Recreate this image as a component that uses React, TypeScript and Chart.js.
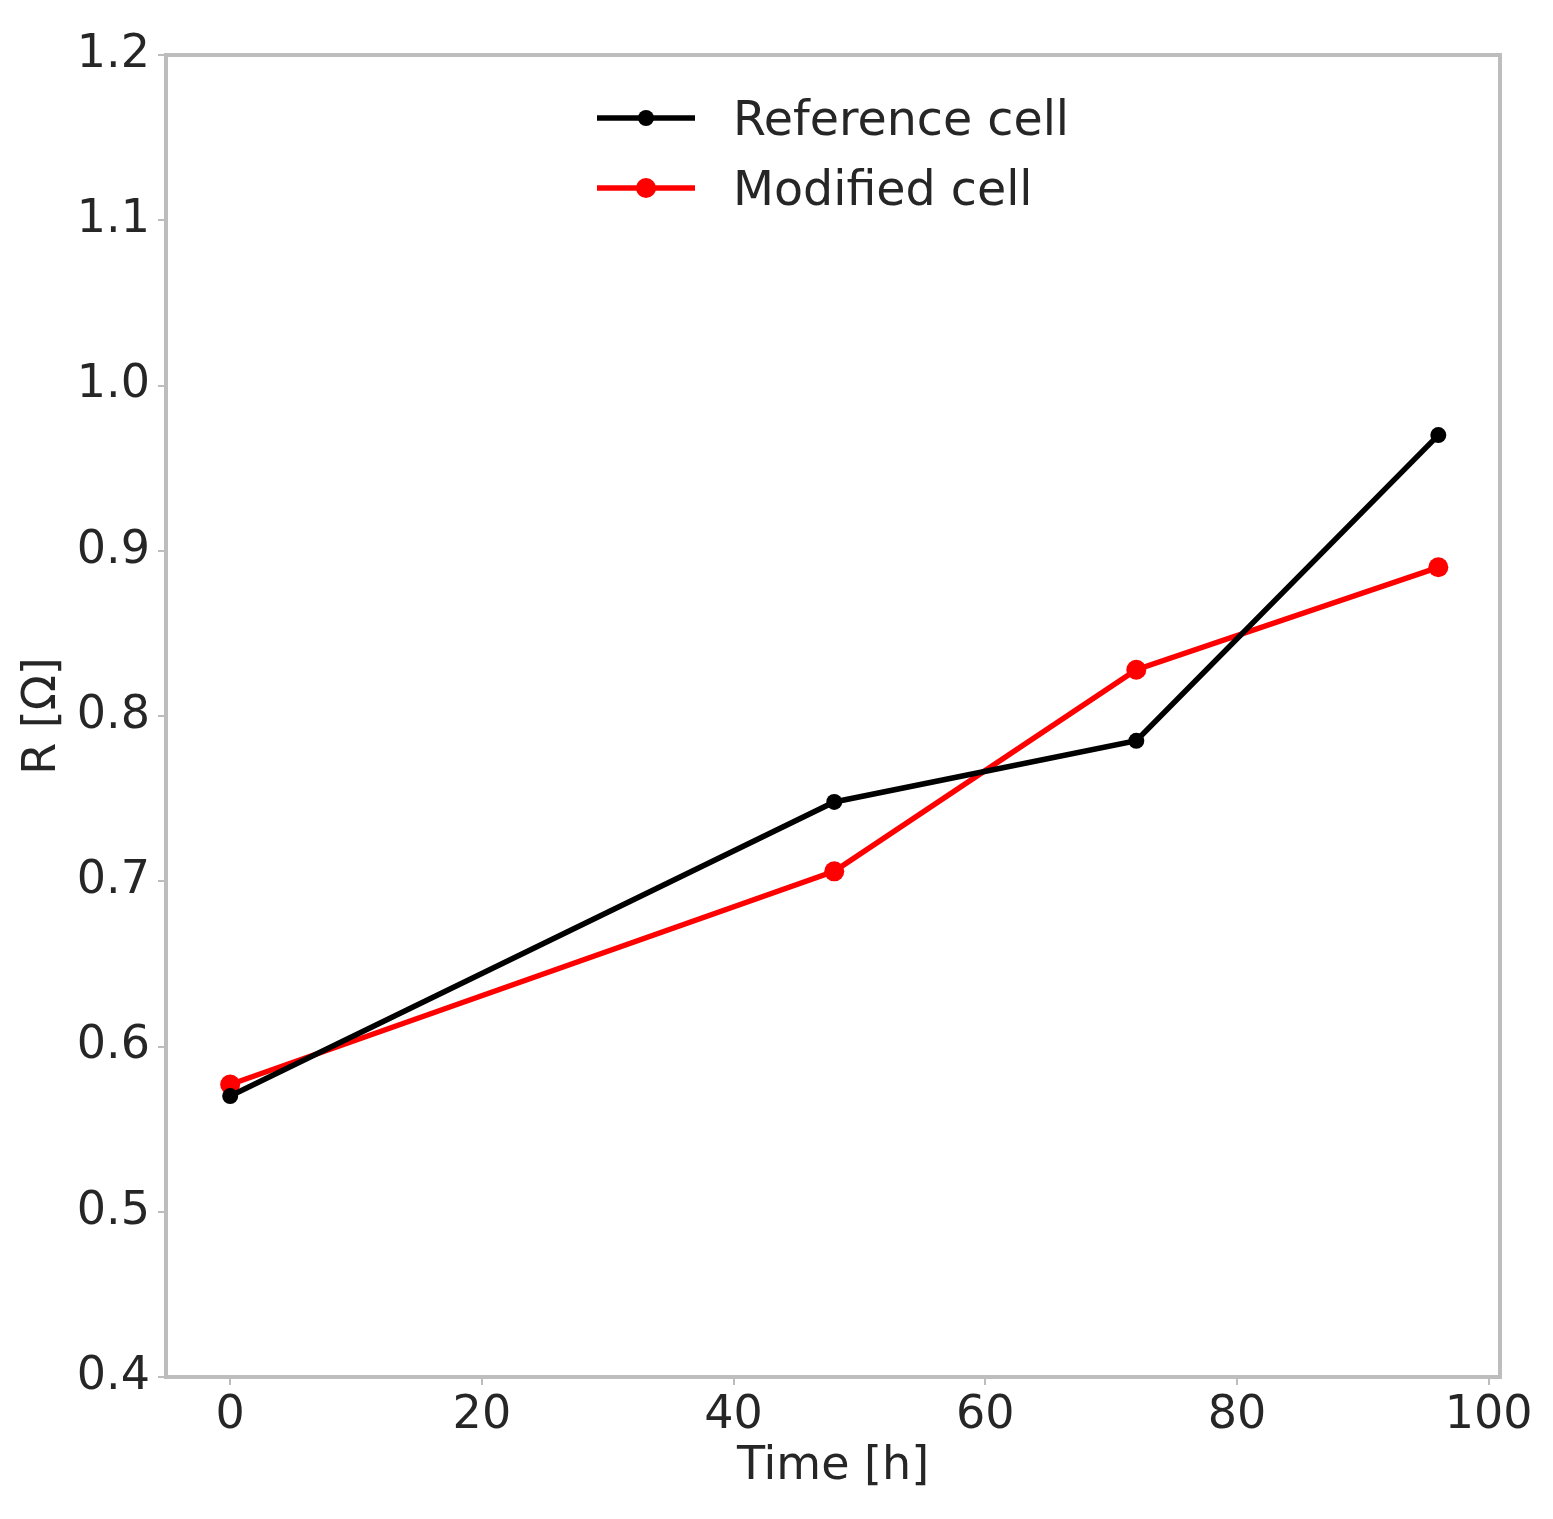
import { useRef, useEffect } from "react"
import { Chart, registerables } from "chart.js"

Chart.register(...registerables)

// data
const timeHours = [0, 48, 72, 96]
const referenceCell = [0.57, 0.748, 0.785, 0.97]
const modifiedCell = [0.577, 0.706, 0.828, 0.89]
const seriesLabels = ["Reference cell", "Modified cell"]
const xTicks = [0, 20, 40, 60, 80, 100]

const FONT = "'DejaVu Sans', Verdana, sans-serif"
const TEXT = "#262626"
const FRAME = "#bdbdbd"

// box around the plot area (matplotlib-like spines)
const framePlugin = {
    id: "frame",
    afterDraw(chart: Chart) {
        const { ctx, chartArea } = chart
        ctx.save()
        ctx.strokeStyle = FRAME
        ctx.lineWidth = 4
        ctx.strokeRect(chartArea.left, chartArea.top, chartArea.right - chartArea.left, chartArea.bottom - chartArea.top)
        ctx.restore()
    },
}

// legend with line + marker sample, drawn inside the plot area
const lineLegendPlugin = {
    id: "lineLegend",
    afterDraw(chart: Chart) {
        const { ctx, chartArea } = chart
        const x0 = chartArea.left + 431
        const lineLen = 98
        const textX = chartArea.left + 567
        let y = chartArea.top + 63
        ctx.save()
        chart.data.datasets.forEach((ds: any) => {
            ctx.strokeStyle = ds.borderColor
            ctx.lineWidth = ds.borderWidth
            ctx.beginPath()
            ctx.moveTo(x0, y)
            ctx.lineTo(x0 + lineLen, y)
            ctx.stroke()
            ctx.fillStyle = ds.pointBackgroundColor
            ctx.beginPath()
            ctx.arc(x0 + lineLen / 2, y, ds.pointRadius, 0, Math.PI * 2)
            ctx.fill()
            ctx.fillStyle = TEXT
            ctx.font = `47.5px ${FONT}`
            ctx.textBaseline = "alphabetic"
            ctx.textAlign = "left"
            ctx.fillText(ds.label, textX, y + 17)
            y += 70
        })
        ctx.restore()
    },
}

export default function App() {
    const chartRef = useRef<HTMLCanvasElement | null>(null)
    const chartInstance = useRef<Chart | null>(null)

    useEffect(() => {
        document.body.style.margin = "0"
        if (!chartRef.current) return
        if (chartInstance.current) chartInstance.current.destroy()

        const ctx = chartRef.current.getContext("2d")
        if (!ctx) return

        chartInstance.current = new Chart(ctx, {
            type: "line",
            data: {
                datasets: [
                    {
                        label: seriesLabels[0],
                        data: timeHours.map((t, i) => ({ x: t, y: referenceCell[i] })),
                        borderColor: "#000000",
                        backgroundColor: "#000000",
                        pointBackgroundColor: "#000000",
                        pointBorderWidth: 0,
                        pointRadius: 8,
                        borderWidth: 5.5,
                        tension: 0,
                    },
                    {
                        label: seriesLabels[1],
                        data: timeHours.map((t, i) => ({ x: t, y: modifiedCell[i] })),
                        borderColor: "#ff0000",
                        backgroundColor: "#ff0000",
                        pointBackgroundColor: "#ff0000",
                        pointBorderWidth: 0,
                        pointRadius: 10,
                        borderWidth: 5.5,
                        tension: 0,
                    },
                ],
            },
            options: {
                animation: false,
                responsive: false,
                maintainAspectRatio: false,
                layout: { padding: { top: 55, right: 53, left: 0, bottom: 0 } },
                plugins: {
                    legend: { display: false },
                    tooltip: { enabled: false },
                },
                scales: {
                    x: {
                        type: "linear",
                        min: -5.1,
                        max: 100.9,
                        afterFit: (scale: any) => { scale.height = 142 },
                        afterBuildTicks: (scale: any) => { scale.ticks = xTicks.map((v) => ({ value: v })) },
                        ticks: {
                            includeBounds: false,
                            color: TEXT,
                            padding: 3,
                            maxRotation: 0,
                            font: { family: FONT, size: 46 },
                        },
                        grid: { display: true, drawOnChartArea: false, drawTicks: true, tickLength: 8, color: FRAME, lineWidth: 2 },
                        border: { display: false },
                        title: {
                            display: true,
                            text: "Time [h]",
                            color: TEXT,
                            font: { family: FONT, size: 46 },
                            padding: { top: 0, bottom: 24 },
                        },
                    },
                    y: {
                        type: "linear",
                        min: 0.4,
                        max: 1.2,
                        afterFit: (scale: any) => { scale.width = 166 },
                        ticks: {
                            stepSize: 0.1,
                            includeBounds: false,
                            color: TEXT,
                            padding: 8,
                            font: { family: FONT, size: 46 },
                            callback: (v: any) => Number(v).toFixed(1),
                        },
                        grid: { display: true, drawOnChartArea: false, drawTicks: true, tickLength: 8, color: FRAME, lineWidth: 2 },
                        border: { display: false },
                        title: {
                            display: true,
                            text: "R [Ω]",
                            color: TEXT,
                            font: { family: FONT, size: 46 },
                            padding: { top: 15, bottom: 0 },
                        },
                    },
                },
            },
            plugins: [framePlugin, lineLegendPlugin],
        })

        return () => {
            if (chartInstance.current) {
                chartInstance.current.destroy()
                chartInstance.current = null
            }
        }
    }, [])

    return (
        <div style={{ width: 1553, height: 1519, background: "#ffffff" }}>
            <canvas ref={chartRef} width={1553} height={1519} style={{ width: 1553, height: 1519 }} />
        </div>
    )
}
